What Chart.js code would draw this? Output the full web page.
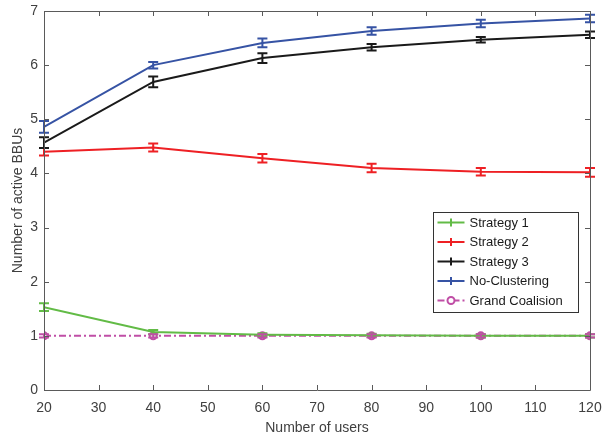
<!DOCTYPE html>
<html>
<head>
<meta charset="utf-8">
<script src="https://cdn.jsdelivr.net/npm/chart.js@4.4.1/dist/chart.umd.min.js"></script>
<style>
  html, body { margin: 0; padding: 0; background: #fff; }
  #wrap { width: 605px; height: 441px; }
</style>
</head>
<body>
<div id="wrap"><canvas id="c" width="605" height="441"></canvas></div>
<script>
// Number of users on the x axis
const users = [20, 40, 60, 80, 100, 120];

// Mean number of active BBUs per scheme
const strategy1 = [1.53, 1.07, 1.02, 1.01, 1.00, 1.00];
const strategy2 = [4.40, 4.48, 4.28, 4.10, 4.03, 4.02];
const strategy3 = [4.57, 5.69, 6.13, 6.33, 6.47, 6.56];
const noClustering = [4.86, 6.00, 6.41, 6.63, 6.77, 6.86];
const grandCoalition = [1.00, 1.00, 1.00, 1.00, 1.00, 1.00];

// Half-widths of the error bars
const strategy1Err = [0.07, 0.04, 0.03, 0.03, 0.03, 0.03];
const strategy2Err = [0.07, 0.075, 0.08, 0.08, 0.07, 0.08];
const strategy3Err = [0.10, 0.10, 0.09, 0.06, 0.05, 0.06];
const noClusteringErr = [0.11, 0.06, 0.08, 0.07, 0.07, 0.07];
const grandCoalitionErr = [0.03, 0.03, 0.03, 0.03, 0.03, 0.03];

const xTicks = [20, 30, 40, 50, 60, 70, 80, 90, 100, 110, 120];
const yTicks = [0, 1, 2, 3, 4, 5, 6, 7];

const axisGrey = '#5a5a5a';
const textGrey = '#404040';
const FONT = '"Liberation Sans", Arial, sans-serif';

function pts(ys) { return users.map((x, i) => ({ x: x, y: ys[i] })); }

const series = [
  { label: 'Strategy 1', data: strategy1, err: strategy1Err, color: '#62bb46', dash: [], marker: false },
  { label: 'Strategy 2', data: strategy2, err: strategy2Err, color: '#ee2024', dash: [], marker: false },
  { label: 'Strategy 3', data: strategy3, err: strategy3Err, color: '#1a1a1a', dash: [], marker: false },
  { label: 'No-Clustering', data: noClustering, err: noClusteringErr, color: '#3653a4', dash: [], marker: false },
  { label: 'Grand Coalision', data: grandCoalition, err: grandCoalitionErr, color: '#c04ea6', dash: [7, 3, 2, 3], marker: true }
];

const datasets = series.map(s => ({
  label: s.label,
  data: pts(s.data),
  errors: s.err,
  borderColor: s.color,
  backgroundColor: s.color,
  borderWidth: 2,
  borderDash: s.dash,
  pointRadius: s.marker ? 3.5 : 0,
  pointBorderWidth: 2,
  pointBackgroundColor: '#ffffff',
  pointBorderColor: s.color,
  pointHoverRadius: 0,
  tension: 0,
  fill: false,
  isMarker: s.marker
}));

// Vertical error bars with short caps
const errorBars = {
  id: 'errorBars',
  afterDatasetsDraw(chart) {
    const ctx = chart.ctx;
    const ys = chart.scales.y;
    chart.data.datasets.forEach((ds, di) => {
      const meta = chart.getDatasetMeta(di);
      ctx.save();
      ctx.strokeStyle = ds.borderColor;
      ctx.lineWidth = 2;
      ctx.setLineDash([]);
      meta.data.forEach((pt, i) => {
        const v = ds.data[i].y, e = ds.errors[i];
        const x = pt.x;
        const yTop = ys.getPixelForValue(v + e);
        const yBot = ys.getPixelForValue(v - e);
        ctx.beginPath();
        ctx.moveTo(x, yTop); ctx.lineTo(x, yBot);
        ctx.moveTo(x - 5, yTop); ctx.lineTo(x + 5, yTop);
        ctx.moveTo(x - 5, yBot); ctx.lineTo(x + 5, yBot);
        ctx.stroke();
      });
      ctx.restore();
    });
  }
};

// Box frame with inward ticks on all four sides
const frame = {
  id: 'frame',
  afterDraw(chart) {
    const ctx = chart.ctx;
    const a = chart.chartArea;
    const xs = chart.scales.x, ys = chart.scales.y;
    const L = 5;
    ctx.save();
    ctx.strokeStyle = axisGrey;
    ctx.lineWidth = 1;
    ctx.setLineDash([]);
    ctx.beginPath();
    ctx.rect(Math.round(a.left) + 0.5, Math.round(a.top) + 0.5,
             Math.round(a.right - a.left), Math.round(a.bottom - a.top));
    xTicks.forEach(t => {
      const x = Math.round(xs.getPixelForValue(t)) + 0.5;
      ctx.moveTo(x, a.bottom); ctx.lineTo(x, a.bottom - L);
      ctx.moveTo(x, a.top); ctx.lineTo(x, a.top + L);
    });
    yTicks.forEach(t => {
      const y = Math.round(ys.getPixelForValue(t)) + 0.5;
      ctx.moveTo(a.left, y); ctx.lineTo(a.left + L, y);
      ctx.moveTo(a.right, y); ctx.lineTo(a.right - L, y);
    });
    ctx.stroke();
    ctx.restore();
  }
};

// Legend box inside the plot area
const boxLegend = {
  id: 'boxLegend',
  afterDraw(chart) {
    const ctx = chart.ctx;
    const bx = 433.5, by = 212.5, bw = 145, bh = 100;
    ctx.save();
    ctx.fillStyle = '#ffffff';
    ctx.fillRect(bx, by, bw, bh);
    ctx.strokeStyle = '#333333';
    ctx.lineWidth = 1;
    ctx.strokeRect(bx, by, bw, bh);
    ctx.font = '13px ' + FONT;
    ctx.textBaseline = 'middle';
    ctx.fillStyle = '#1a1a1a';
    chart.data.datasets.forEach((ds, i) => {
      const y = by + 10 + i * 19.5;
      const x0 = bx + 4, x1 = bx + 31, xm = (x0 + x1) / 2;
      ctx.strokeStyle = ds.borderColor;
      ctx.lineWidth = 2;
      ctx.setLineDash(ds.borderDash || []);
      ctx.beginPath();
      ctx.moveTo(x0, y); ctx.lineTo(x1, y);
      ctx.stroke();
      ctx.setLineDash([]);
      if (ds.isMarker) {
        ctx.beginPath();
        ctx.fillStyle = '#ffffff';
        ctx.arc(xm, y, 3.5, 0, Math.PI * 2);
        ctx.fill();
        ctx.stroke();
      } else {
        ctx.beginPath();
        ctx.moveTo(xm, y - 4); ctx.lineTo(xm, y + 4);
        ctx.stroke();
      }
      ctx.fillStyle = '#1a1a1a';
      ctx.fillText(ds.label, bx + 36, y + 0.5);
    });
    ctx.restore();
  }
};

new Chart(document.getElementById('c'), {
  type: 'line',
  data: { datasets: datasets },
  options: {
    responsive: false,
    animation: false,
    layout: { padding: { top: 11, right: 15, left: 0, bottom: 0 } },
    plugins: { legend: { display: false }, tooltip: { enabled: false } },
    scales: {
      x: {
        type: 'linear',
        min: 20, max: 120,
        afterBuildTicks(scale) { scale.ticks = xTicks.map(v => ({ value: v })); },
        afterFit(scale) { scale.height = 51; scale.paddingLeft = 0; scale.paddingRight = 0; },
        grid: { display: false, drawTicks: false },
        border: { display: false },
        ticks: { color: textGrey, font: { family: FONT, size: 14 }, padding: 10, maxRotation: 0, autoSkip: false },
        title: { display: true, text: 'Number of users', color: textGrey, font: { family: FONT, size: 14 }, padding: { top: 0, bottom: 4 } }
      },
      y: {
        type: 'linear',
        min: 0, max: 7,
        afterBuildTicks(scale) { scale.ticks = yTicks.map(v => ({ value: v })); },
        afterFit(scale) { scale.width = 44; scale.paddingTop = 0; scale.paddingBottom = 0; },
        grid: { display: false, drawTicks: false },
        border: { display: false },
        ticks: { color: textGrey, font: { family: FONT, size: 14 }, padding: 6, autoSkip: false },
        title: { display: true, text: 'Number of active BBUs', color: textGrey, font: { family: FONT, size: 14 }, padding: { top: 10, bottom: 0 } }
      }
    }
  },
  plugins: [errorBars, frame, boxLegend]
});
</script>
</body>
</html>
